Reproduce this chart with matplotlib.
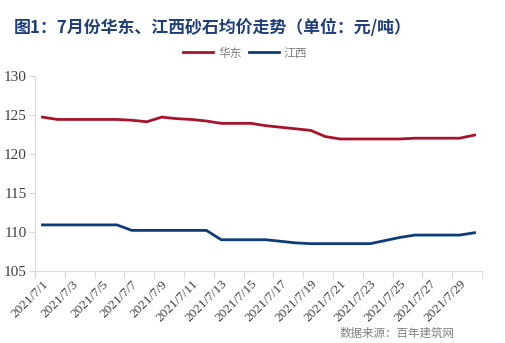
import matplotlib
matplotlib.use("Agg")
import matplotlib.pyplot as plt

# 2021/7/1 .. 2021/7/30
days = [f"2021/7/{d}" for d in range(1, 31)]

huadong = [124.7, 124.4, 124.4, 124.4, 124.4, 124.4, 124.3, 124.1, 124.7, 124.5,
           124.4, 124.2, 123.9, 123.9, 123.9, 123.6, 123.4, 123.2, 123.0, 122.2,
           121.9, 121.9, 121.9, 121.9, 121.9, 122.0, 122.0, 122.0, 122.0, 122.4]
jiangxi = [110.9, 110.9, 110.9, 110.9, 110.9, 110.9, 110.2, 110.2, 110.2, 110.2,
           110.2, 110.2, 109.0, 109.0, 109.0, 109.0, 108.8, 108.6, 108.5, 108.5,
           108.5, 108.5, 108.5, 108.9, 109.3, 109.6, 109.6, 109.6, 109.6, 109.9]

y_ticks = [105, 110, 115, 120, 125, 130]

RED = "#A8132B"
BLUE = "#0D3C78"
GRID_GRAY = "#D9D9D9"
cjk = ["Noto Sans CJK SC", "DejaVu Sans"]
serif = ["Liberation Serif", "DejaVu Serif"]

fig = plt.figure(figsize=(5.05, 3.43), dpi=100)
ax = fig.add_axes([35 / 505, 1 - 271 / 343, (482 - 35) / 505, (271 - 75.7) / 343])

x = list(range(len(days)))
ax.plot(x, huadong, color=RED, lw=2, label="华东", solid_joinstyle="round")
ax.plot(x, jiangxi, color=BLUE, lw=2, label="江西", solid_joinstyle="round")

ax.set_xlim(-0.5, len(days) - 0.5)
ax.set_ylim(105, 130)
ax.set_yticks(y_ticks)
ax.set_yticklabels([str(v) for v in y_ticks], family=serif, fontsize=11, color="#404040")

# tick marks on category boundaries, labels on every other category
ax.set_xticks([i - 0.5 for i in range(0, len(days) + 1, 2)])
ax.set_xticklabels([])
ax.set_xticks(x[::2], minor=True)
ax.set_xticklabels(days[::2], minor=True, rotation=45, ha="right",
                   rotation_mode="anchor", family=serif, fontsize=9.5, color="#404040")
ax.tick_params(axis="x", which="major", length=5, color=GRID_GRAY)
ax.tick_params(axis="x", which="minor", length=0, pad=5)
ax.tick_params(axis="y", length=4, color=GRID_GRAY, pad=2)

for side in ("top", "right"):
    ax.spines[side].set_visible(False)
for side in ("left", "bottom"):
    ax.spines[side].set_color(GRID_GRAY)

fig.text(14 / 505, 1 - 28 / 343, "图1：7月份华东、江西砂石均价走势（单位：元/吨）",
         family=cjk, fontsize=12.2, fontweight="bold", color="#1F3E7A", va="center")

leg = fig.legend(loc="center", bbox_to_anchor=(245 / 505, 1 - 53 / 343), ncol=2,
                 frameon=False, handlelength=2.6, handletextpad=0.4, columnspacing=0.6,
                 prop={"family": cjk, "size": 8.5})
for t in leg.get_texts():
    t.set_color("#7F7F7F")

fig.text(340 / 505, 1 - 333 / 343, "数据来源：百年建筑网", family=cjk,
         fontsize=8.3, color="#808080", va="center")

fig.savefig("out.png", dpi=100)
